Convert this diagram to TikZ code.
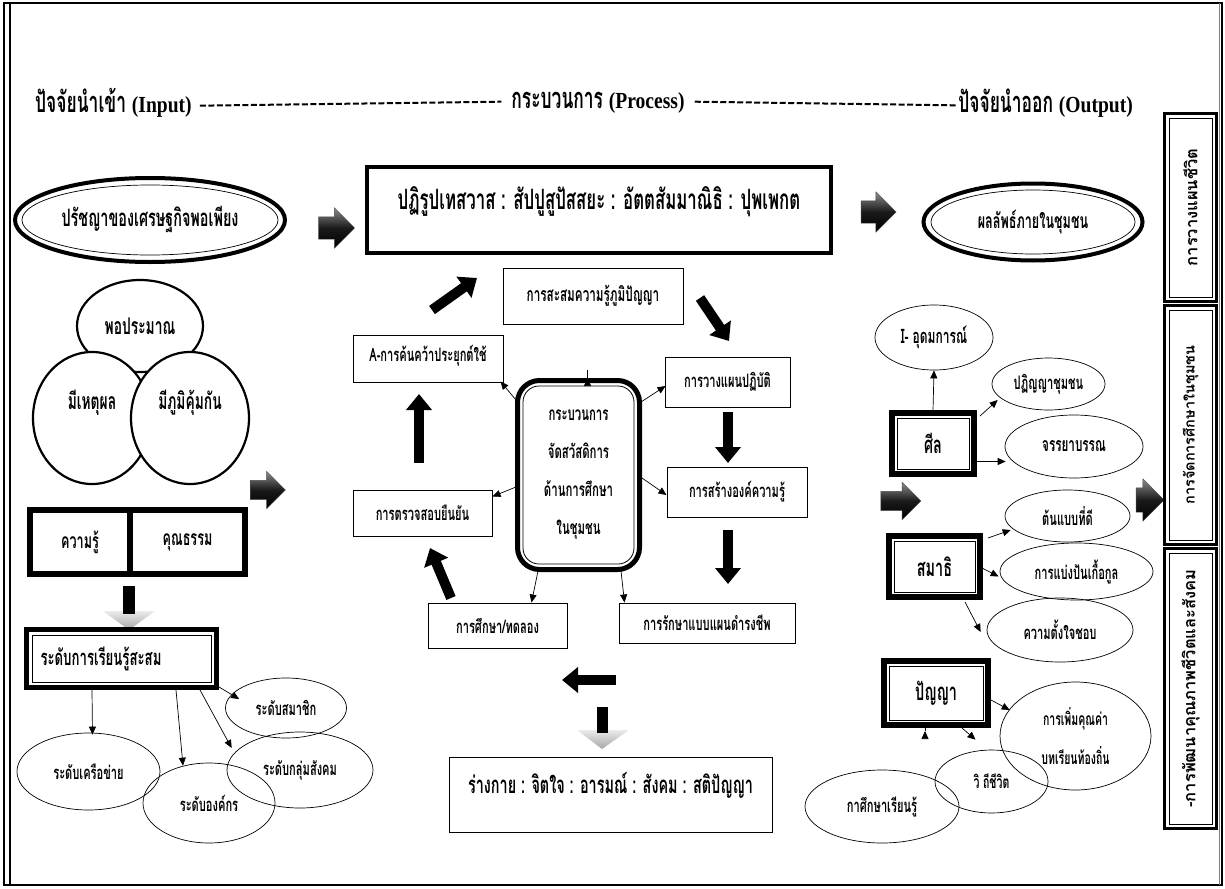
\documentclass[tikz,border=0pt]{standalone}
\usepackage{fontspec}
\usepackage{graphicx}
\usetikzlibrary{shapes.geometric,shapes.arrows,arrows.meta,calc}
\setmainfont{Loma}[Script=Thai,FakeStretch=0.6]
\newfontfamily\vfont{Loma}[Script=Thai]
\newfontfamily\latf{Liberation Serif}[FakeStretch=0.85]
\newcommand\fsz[1]{\fontsize{#1}{#1}\selectfont}
\tikzset{
  ttl/.style={font=\bfseries\fsz{29}, inner sep=0pt},
  dsh/.style={line width=2pt, dash pattern=on 6pt off 2.5pt},
  ov/.style={draw, ellipse, line width=0.7pt, inner sep=0pt, align=center, font=\bfseries\fsz{18.5}},
  ovtwo/.style={draw, ellipse, line width=4pt, inner sep=0pt, font=\bfseries\fsz{22}},
  circ/.style={draw, ellipse, fill=white, line width=2.2pt, inner sep=0pt, font=\bfseries\fsz{23}},
  bx/.style={draw, rectangle, line width=1pt, inner sep=0pt, align=center, font=\bfseries\fsz{18.5}},
  heavy/.style={draw, rectangle, line width=6pt, inner sep=0pt, font=\bfseries\fsz{24}},
  ta/.style={line width=0.7pt, -{Triangle[length=8pt,width=7pt]}},
  fat/.style={line width=10pt, -{Triangle[length=16pt,width=25pt]}},
  sarrow/.style={single arrow, single arrow head extend=9pt, minimum height=36pt,
    inner sep=0pt, draw=black!70, line width=0.4pt,
    top color=black!45, bottom color=black, middle color=black!90},
  vb/.style={draw, rectangle, line width=3pt, inner sep=0pt, font=\vfont\bfseries\fsz{16.5}},
}
\newcommand\shaft[1]{\rule{0pt}{#1pt}}
\begin{document}
\begin{tikzpicture}[x=1pt,y=-1pt]
\useasboundingbox (0,0) rectangle (1225,888);
% frame
\draw[line width=1.2pt] (4,3) rectangle (1222,885);
\draw[line width=2.5pt] (10,3) -- (10,885);
\draw[black!50, line width=0.8pt] (1219,3) -- (1219,885);

% title row
\node[ttl, anchor=west] (tin) at (35,103) {ปัจจัยนำเข้า {\latf\fsz{23}(Input)}};
\node[ttl] (tproc) at (598,103) {กระบวนการ {\latf\fsz{23}(Process)}};
\node[ttl, anchor=east] (tout) at (1133,103) {ปัจจัยนำออก {\latf\fsz{23}(Output)}};
\draw[dsh] ([shift={(8,-7)}]tin.base east) -- ([shift={(-10,-7)}]tproc.base west);
\draw[dsh] ([shift={(10,-7)}]tproc.base east) -- ([shift={(0,-7)}]tout.base west);

% ---------- left column ----------
\node[ovtwo, minimum width=270pt, minimum height=84pt, font=\bfseries\fsz{24}] (phil) at (150,220) {ปรัชญาของเศรษฐกิจพอเพียง};
\draw[line width=0.7pt] (phil.center) ellipse [x radius=128pt, y radius=35pt];
\node[sarrow] (sa1) at (331,228) {\shaft{22}};

\node[circ, minimum width=126pt, minimum height=92pt] (c1) at (140,326) {พอประมาณ};
\node[circ, minimum width=118pt, minimum height=132pt, text depth=36pt] (c2) at (92,418) {มีเหตุผล};
\node[circ, minimum width=118pt, minimum height=132pt, text depth=36pt] (c3) at (190,418) {มีภูมิคุ้มกัน};
\node[sarrow, minimum height=35pt] (sa2) at (263,490) {\shaft{19}};

\node[heavy, minimum width=100pt, minimum height=64pt, font=\bfseries\fsz{21}] (know) at (80,542) {ความรู้};
\node[heavy, minimum width=115pt, minimum height=64pt, font=\bfseries\fsz{21}] (virtue) at (187.5,542) {คุณธรรม};

% shaded down arrow
\coordinate (d1t) at (129,586);
\coordinate (d1b) at (129,614);
\shade[top color=black!8, bottom color=black!35] (103,611) -- (155,611) -- (129,630) -- cycle;
\draw[line width=12pt] (d1t) -- (d1b);

\node[heavy, line width=5pt, minimum width=190pt, minimum height=58pt, text width=162pt, align=left, font=\bfseries\fsz{22}] (level) at (121.5,658.5) {ระดับการเรียนรู้สะสม};
\draw[line width=0.8pt] ([shift={(8,8)}]level.north west) rectangle ([shift={(-8,-8)}]level.south east);

\node[ov, minimum width=121pt, minimum height=60pt] (member) at (286,708) {ระดับสมาชิก};
\node[ov, minimum width=146pt, minimum height=76pt] (social) at (300,770) {ระดับกลุ่มสังคม};
\node[ov, minimum width=143pt, minimum height=77pt] (network) at (88.5,771.5) {ระดับเครือข่าย};
\node[ov, minimum width=132pt, minimum height=80pt] (org) at (209,803) {ระดับองค์กร};

\draw[ta] ($(level.south west)+(68,0)$) -- ($(network.north)+(4,2)$);
\draw[ta] ($(level.south west)+(152,0)$) -- ($(org.north)+(-26,3)$);
\draw[ta] ($(level.south west)+(176,0)$) -- ($(social.west)+(5,-22)$);
\draw[ta] ($(level.south east)+(0,-3)$) -- ($(member.west)+(14,-9)$);

% ---------- centre ----------
\node[draw, rectangle, line width=4pt, minimum width=464pt, minimum height=86pt, inner sep=0pt, text depth=24pt, font=\bfseries\fsz{28}] (top) at (599,210) {ปฏิรูปเทสวาส : สัปปูสูปัสสยะ : อัตตสัมมาณิธิ : ปุพเพกต};
\node[sarrow, minimum height=35pt] (sa3) at (873,212) {\shaft{22}};

\node[ovtwo, minimum width=219pt, minimum height=77pt, font=\bfseries\fsz{21}] (outc) at (1033,222) {ผลลัพธ์ภายในชุมชน};
\draw[line width=0.7pt] (outc.center) ellipse [x radius=102pt, y radius=32pt];

\node[bx, minimum width=180pt, minimum height=56pt, font=\bfseries\fsz{19.5}] (acc) at (593,296) {การสะสมความรู้ภูมิปัญญา};
\node[bx, minimum width=150pt, minimum height=47pt, text depth=10pt] (apply) at (428,358.5) {A-การค้นคว้าประยุกต์ใช้};
\node[bx, minimum width=125pt, minimum height=50pt] (plan) at (727.5,382) {การวางแผนปฏิบัติ};
\node[bx, minimum width=140pt, minimum height=50pt] (create) at (737,492) {การสร้างองค์ความรู้};
\node[bx, minimum width=176pt, minimum height=40pt] (keep) at (707,623) {การรักษาแบบแผนดำรงชีพ};
\node[bx, minimum width=139pt, minimum height=45pt] (study) at (497.5,625.5) {การศึกษา/ทดลอง};
\node[bx, minimum width=139pt, minimum height=46pt] (verify) at (422.5,513) {การตรวจสอบยืนยัน};

\node[draw, rectangle, rounded corners=22pt, line width=5pt, minimum width=122pt, minimum height=189pt, inner sep=0pt, align=center, font=\bfseries\fontsize{19}{38}\selectfont] (centre) at (578.5,475) {กระบวนการ\\จัดสวัสดิการ\\ด้านการศึกษา\\ในชุมชน};
\draw[line width=0.8pt, rounded corners=16pt] ([shift={(8,8)}]centre.north west) rectangle ([shift={(-8,-8)}]centre.south east);

\draw[ta] ($(centre.north)+(9,0)$) -- ($(centre.north)+(9,0)$ |- acc.south);
\draw[ta] ($(centre.north west)+(1,22)$) -- ($(apply.south east)+(-3,-1)$);
\draw[ta] ($(centre.north east)+(-1,24)$) -- ($(plan.west)+(1,4)$);
\draw[ta] ($(centre.east)+(0,3)$) -- ($(create.west)+(0,3)$);
\draw[ta] ($(centre.south east)+(-21,-1)$) -- ($(keep.north west)+(6,0)$);
\draw[ta] ($(centre.south west)+(23,-1)$) -- ($(study.north east)+(-36,0)$);
\draw[ta] ($(centre.west)+(1,12)$) -- ($(verify.north east)+(0,7)$);

\coordinate (f1s) at (432,310); \coordinate (f1e) at (477,278);
\coordinate (f2s) at (700,298); \coordinate (f2e) at (729,341);
\coordinate (f3s) at (728,412); \coordinate (f3e) at (728,463);
\coordinate (f4s) at (728,530); \coordinate (f4e) at (728,584);
\coordinate (f5s) at (451,598); \coordinate (f5e) at (430,548);
\coordinate (f6s) at (419,463); \coordinate (f6e) at (419,394);
\coordinate (f7s) at (616,680); \coordinate (f7e) at (562,680);
\foreach \i in {1,...,7} \draw[fat] (f\i s) -- (f\i e);

% shaded down arrow bottom
\coordinate (d2t) at (602,707);
\coordinate (d2b) at (602,733);
\shade[top color=black!8, bottom color=black!35] (577,730) -- (629,730) -- (602,749) -- cycle;
\draw[line width=11pt] (d2t) -- (d2b);

\node[bx, minimum width=323pt, minimum height=75pt, text depth=24pt, font=\bfseries\fsz{24}] (body) at (610.5,794.5) {ร่างกาย : จิตใจ : อารมณ์ : สังคม : สติปัญญา};

% ---------- right column ----------
\node[ov, minimum width=118pt, minimum height=65pt, font=\bfseries\fsz{20}] (ideal) at (934,337.5) {I- อุดมการณ์};
\node[ov, minimum width=113pt, minimum height=52pt] (decl) at (1048.5,384) {ปฏิญญาชุมชน};
\node[ov, minimum width=138pt, minimum height=63pt, font=\bfseries\fsz{19.5}] (ethics) at (1074,446.5) {จรรยาบรรณ};
\node[ov, minimum width=125pt, minimum height=52pt] (model) at (1067.5,516) {ต้นแบบที่ดี};
\node[ov, minimum width=153pt, minimum height=57pt] (share) at (1076.5,571.5) {การแบ่งปันเกื้อกูล};
\node[ov, minimum width=146pt, minimum height=64pt] (intent) at (1060,630) {ความตั้งใจชอบ};
\node[ov, minimum width=151pt, minimum height=108pt, font=\bfseries\fontsize{17.5}{39}\selectfont] (value) at (1075.5,736) {การเพิ่มคุณค่า\\บทเรียนท้องถิ่น};
\node[ov, minimum width=113pt, minimum height=63pt, font=\bfseries\fsz{17.5}] (way) at (991.5,781.5) {วิ ถีชีวิต};
\node[ov, minimum width=154pt, minimum height=73pt] (learn) at (882,806.5) {กาศึกษาเรียนรู้};

\node[heavy, minimum width=82pt, minimum height=61pt] (sila) at (933,443.5) {ศีล};
\node[heavy, minimum width=91pt, minimum height=61pt] (samathi) at (934.5,566.5) {สมาธิ};
\node[heavy, minimum width=104pt, minimum height=64pt] (panya) at (936,693) {ปัญญา};
\foreach \n in {sila,samathi,panya}
  \draw[line width=0.8pt] ([shift={(8,8)}]\n.north west) rectangle ([shift={(-8,-8)}]\n.south east);

\draw[line width=6pt] ($(sila.south)+(-8,0)$) -- ($(sila.south)+(-8,0)$ |- samathi.north);
\draw[line width=6pt] ($(samathi.south)+(-9,0)$) -- ($(samathi.south)+(-9,0)$ |- panya.north);

\node[sarrow, minimum height=40pt] (sa4) at (896,501) {\shaft{19}};
\node[sarrow, minimum height=28pt] (sa5) at (1144,500) {\shaft{24}};

\draw[ta] (sila.north) -- (ideal.south);
\draw[ta] ($(sila.north east)+(3,6)$) -- ($(decl.west)+(6,16)$);
\draw[ta] ($(sila.east)+(0,18)$) -- ($(ethics.west)+(1,15)$);
\draw[ta] ($(samathi.north east)+(5,5)$) -- ($(model.west)+(6,14)$);
\draw[ta] ($(samathi.east)+(0,2)$) -- ($(share.west)+(-1,5)$);
\draw[ta] ($(samathi.south east)+(-18,2)$) -- ($(intent.west)+(-6,2)$);
\draw[ta] ($(panya.east)+(0,7)$) -- ($(value.west)+(10,-26)$);
\draw[ta] ($(panya.south east)+(-29,0)$) -- ($(way.north)+(-16,-10)$);
\draw[ta] ($(panya.south)+(-11,3)$) -- ($(panya.south)+(-11,3)$ |- learn.north);

% vertical boxes
\node[vb, minimum width=52pt, minimum height=188pt] (vb1) at (1190.5,207.5) {\rotatebox{90}{การวางแผนชีวิต}};
\node[vb, minimum width=52pt, minimum height=239pt, font=\vfont\bfseries\fsz{14.5}] (vb2) at (1190.5,425) {\rotatebox{90}{การจัดการศึกษาในชุมชน}};
\node[vb, minimum width=52pt, minimum height=280pt] (vb3) at (1190.5,688.5) {\rotatebox{90}{-การพัฒนาคุณภาพชีวิตและสังคม}};
\foreach \n in {vb1,vb2,vb3}
  \draw[line width=0.7pt] ([shift={(6,6)}]\n.north west) rectangle ([shift={(-6,-6)}]\n.south east);
\end{tikzpicture}
\end{document}
